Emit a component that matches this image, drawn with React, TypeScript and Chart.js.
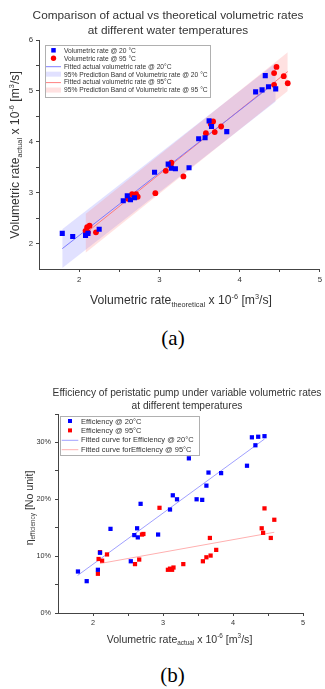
import React, { useEffect, useRef } from "react";
import { Chart, registerables } from "chart.js";
Chart.register(...registerables);

const SANS = "'Liberation Sans', Arial, Helvetica, sans-serif";
const SERIF = "'Liberation Serif', 'Times New Roman', serif";
const INK = "#333333";

// ---------------- Panel (a): actual vs theoretical volumetric rate ----------------
const aBlueX = [1.79, 1.92, 2.08, 2.11, 2.25, 2.55, 2.6, 2.64, 2.69, 2.94, 3.11, 3.15, 3.2, 3.37, 3.49, 3.57, 3.62, 3.65, 3.84, 4.2, 4.28, 4.32, 4.36, 4.45];
const aBlueY = [2.2, 2.14, 2.16, 2.2, 2.28, 2.84, 2.94, 2.86, 2.9, 3.4, 3.56, 3.48, 3.47, 3.49, 4.06, 4.08, 4.41, 4.3, 4.2, 4.98, 5.02, 5.3, 5.08, 5.04];
const aRedX = [2.08, 2.1, 2.11, 2.13, 2.21, 2.61, 2.66, 2.71, 2.73, 2.95, 3.08, 3.14, 3.15, 3.3, 3.58, 3.64, 3.67, 3.69, 3.77, 4.43, 4.43, 4.46, 4.55, 4.6];
const aRedY = [2.25, 2.32, 2.22, 2.35, 2.22, 2.88, 2.97, 2.97, 2.92, 2.99, 3.43, 3.53, 3.59, 3.32, 4.17, 4.35, 4.4, 4.19, 4.3, 5.12, 5.35, 5.47, 5.29, 5.15];
const aBlueFitX = [1.79, 4.45];
const aBlueFitY = [1.9, 5.17];
const aBlueBandLow = [1.52, 4.79];
const aBlueBandHigh = [2.28, 5.55];
const aRedFitX = [2.08, 4.6];
const aRedFitY = [2.2, 5.38];
const aRedBandLow = [1.82, 5.0];
const aRedBandHigh = [2.58, 5.76];
const aXTicks = [2, 2.5, 3, 3.5, 4, 4.5, 5];
const aXLabels = [2, 3, 4, 5];
const aYTicks = [2, 2.5, 3, 3.5, 4, 4.5, 5, 5.5, 6];
const aYLabels = [2, 3, 4, 5, 6];
const aTitle = ["Comparison of actual vs theoretical volumetric rates", "at different water temperatures"];
const aLegendLabels = [
  "Volumetric rate @ 20 °C",
  "Volumetric rate @ 95 °C",
  "Fitted actual volumetric rate @ 20°C",
  "95% Prediction Band of Volumetric rate @ 20 °C",
  "Fitted actual volumetric rate @ 95°C",
  "95% Prediction Band of Volumetric rate @ 95 °C",
];

// ---------------- Panel (b): pump efficiency ----------------
const bBlueX = [1.785, 1.91, 2.07, 2.1, 2.25, 2.54, 2.59, 2.63, 2.64, 2.68, 2.93, 3.1, 3.14, 3.2, 3.37, 3.48, 3.56, 3.62, 3.65, 3.83, 4.2, 4.27, 4.32, 4.36, 4.45];
const bBlueY = [7.3, 5.6, 7.6, 10.6, 14.8, 9.1, 13.7, 14.9, 13.3, 19.2, 13.8, 18.2, 20.7, 20.0, 27.2, 20.0, 19.9, 22.4, 24.7, 24.6, 25.9, 30.9, 29.5, 31.0, 31.1];
const bRedX = [2.07, 2.08, 2.1, 2.13, 2.2, 2.6, 2.66, 2.7, 2.72, 2.95, 3.07, 3.1, 3.13, 3.15, 3.29, 3.57, 3.62, 3.67, 3.68, 3.76, 4.41, 4.43, 4.45, 4.54, 4.59];
const bRedY = [6.9, 9.5, 10.7, 9.2, 10.3, 8.6, 9.4, 13.8, 13.9, 18.5, 7.6, 7.8, 7.6, 8.0, 8.6, 9.1, 9.8, 13.2, 10.1, 11.1, 14.9, 14.1, 18.4, 13.2, 16.4];
const bBlueFitX = [1.78, 4.45];
const bBlueFitY = [6.6, 30.6];
const bRedFitX = [2.1, 4.59];
const bRedFitY = [8.7, 14.2];
const bXTicks = [2, 2.5, 3, 3.5, 4, 4.5, 5];
const bXLabels = [2, 3, 4, 5];
const bYTicks = [0, 5, 10, 15, 20, 25, 30, 35];
const bYLabels = [0, 10, 20, 30];
const bTitle = ["Efficiency of peristatic pump under variable volumetric rates", "at different temperatures"];
const bLegendLabels = [
  "Efficiency @ 20°C",
  "Efficiency @ 95°C",
  "Fitted curve for Efficiency @ 20°C",
  "Fitted curve forEfficiency @ 95°C",
];

// ---------------- helpers ----------------
type Seg = { t: string; k?: "sub" | "sup" };
type LegendItem = { kind: "rect" | "circle" | "line" | "band"; color: string; label: string };
type LegendCfg = {
  x0: number; y0: number; x1: number; y1: number;
  rowY0: number; rowGap: number; markX: number; lineX0: number; lineX1: number;
  textX: number; size: number; mark: number; items: LegendItem[];
};
type Decor = {
  title: string[]; titleX: number; titleY: number[]; titleSize: number;
  xTitle: Seg[]; xTitleX: number; xTitleY: number;
  yTitle: Seg[]; yTitleX: number; yTitleY: number; axisSize: number;
  legend: LegendCfg;
};

function richWidth(ctx: CanvasRenderingContext2D, segs: Seg[], size: number) {
  let w = 0;
  for (const s of segs) {
    ctx.font = `${s.k ? size * 0.6 : size}px ${SANS}`;
    w += ctx.measureText(s.t).width;
  }
  return w;
}

function drawRich(ctx: CanvasRenderingContext2D, segs: Seg[], cx: number, cy: number, size: number, rotate: boolean) {
  ctx.save();
  ctx.translate(cx, cy);
  if (rotate) ctx.rotate(-Math.PI / 2);
  const w = richWidth(ctx, segs, size);
  let x = -w / 2;
  ctx.textAlign = "left";
  ctx.textBaseline = "alphabetic";
  ctx.fillStyle = INK;
  const base = size * 0.36;
  for (const s of segs) {
    const fs = s.k ? size * 0.6 : size;
    ctx.font = `${fs}px ${SANS}`;
    const dy = s.k === "sub" ? size * 0.22 : s.k === "sup" ? -size * 0.42 : 0;
    ctx.fillText(s.t, x, base + dy);
    x += ctx.measureText(s.t).width;
  }
  ctx.restore();
}

function drawLegend(ctx: CanvasRenderingContext2D, L: LegendCfg) {
  ctx.save();
  ctx.fillStyle = "#ffffff";
  ctx.fillRect(L.x0, L.y0, L.x1 - L.x0, L.y1 - L.y0);
  ctx.strokeStyle = "#b0b0b0";
  ctx.lineWidth = 1;
  ctx.strokeRect(Math.round(L.x0) + 0.5, Math.round(L.y0) + 0.5, Math.round(L.x1 - L.x0), Math.round(L.y1 - L.y0));
  L.items.forEach((it, i) => {
    const y = L.rowY0 + i * L.rowGap;
    ctx.fillStyle = it.color;
    ctx.strokeStyle = it.color;
    if (it.kind === "rect") {
      ctx.fillRect(L.markX - L.mark / 2, y - L.mark / 2, L.mark, L.mark);
    } else if (it.kind === "circle") {
      ctx.beginPath();
      ctx.arc(L.markX, y, L.mark / 2 + 0.4, 0, Math.PI * 2);
      ctx.fill();
    } else if (it.kind === "line") {
      ctx.lineWidth = 1;
      ctx.beginPath();
      ctx.moveTo(L.lineX0, y + 0.5);
      ctx.lineTo(L.lineX1, y + 0.5);
      ctx.stroke();
    } else {
      ctx.fillRect(L.lineX0, y - 2.5, L.lineX1 - L.lineX0, 5);
    }
    ctx.fillStyle = INK;
    ctx.font = `${L.size}px ${SANS}`;
    ctx.textAlign = "left";
    ctx.textBaseline = "middle";
    ctx.fillText(it.label, L.textX, y + 0.5);
  });
  ctx.restore();
}

function makeDecor(d: Decor) {
  return {
    id: "decor",
    afterDraw(chart: any) {
      const ctx: CanvasRenderingContext2D = chart.ctx;
      ctx.save();
      ctx.fillStyle = INK;
      ctx.textAlign = "center";
      ctx.textBaseline = "middle";
      ctx.font = `${d.titleSize}px ${SANS}`;
      d.title.forEach((t, i) => ctx.fillText(t, d.titleX, d.titleY[i]));
      ctx.restore();
      drawRich(ctx, d.xTitle, d.xTitleX, d.xTitleY, d.axisSize, false);
      drawRich(ctx, d.yTitle, d.yTitleX, d.yTitleY, d.axisSize, true);
      drawLegend(ctx, d.legend);
    },
  };
}

const pts = (xs: number[], ys: number[]) => xs.map((x, i) => ({ x, y: ys[i] }));

function axis(
  min: number, max: number, ticks: number[], labels: number[], fmt: (v: number) => string,
  fontSize: number, pad: number, fit: (s: any) => void
) {
  return {
    type: "linear",
    min,
    max,
    afterBuildTicks: (s: any) => {
      s.ticks = ticks.map((v) => ({ value: v }));
    },
    afterFit: fit,
    ticks: {
      autoSkip: false,
      maxRotation: 0,
      padding: pad,
      color: INK,
      font: { family: SANS, size: fontSize },
      callback: (v: any) => (labels.includes(Number(v)) ? fmt(Number(v)) : ""),
    },
    grid: { drawOnChartArea: false, drawTicks: true, tickLength: 3, tickColor: "#444", tickWidth: 1 },
    border: { display: true, color: "#444", width: 1 },
    title: { display: false },
  };
}

function configA() {
  const blueBand = "rgba(120,120,255,0.22)";
  const redBand = "rgba(255,120,120,0.22)";
  const decor = makeDecor({
    title: aTitle, titleX: 168, titleY: [15.5, 31], titleSize: 11.8,
    xTitle: [{ t: "Volumetric rate" }, { t: "theoretical", k: "sub" }, { t: " x 10" }, { t: "-6", k: "sup" }, { t: " [m" }, { t: "3", k: "sup" }, { t: "/s]" }],
    xTitleX: 181, xTitleY: 300,
    yTitle: [{ t: "Volumetric rate" }, { t: "actual", k: "sub" }, { t: " x 10" }, { t: "-6", k: "sup" }, { t: " [m" }, { t: "3", k: "sup" }, { t: "/s]" }],
    yTitleX: 15, yTitleY: 155, axisSize: 12.2,
    legend: {
      x0: 44.5, y0: 45, x1: 209, y1: 97, rowY0: 50.3, rowGap: 7.95,
      markX: 53.5, lineX0: 46, lineX1: 61, textX: 64, size: 6.7, mark: 4.5,
      items: [
        { kind: "rect", color: "#0000ff", label: aLegendLabels[0] },
        { kind: "circle", color: "#ff0000", label: aLegendLabels[1] },
        { kind: "line", color: "#8080ff", label: aLegendLabels[2] },
        { kind: "band", color: "rgba(120,120,255,0.22)", label: aLegendLabels[3] },
        { kind: "line", color: "#ff8080", label: aLegendLabels[4] },
        { kind: "band", color: "rgba(255,120,120,0.22)", label: aLegendLabels[5] },
      ],
    },
  });
  return {
    type: "scatter",
    data: {
      datasets: [
        { data: pts(aBlueX, aBlueY), pointStyle: "rect", pointRadius: 3.6, backgroundColor: "#0000ff", borderWidth: 0 },
        { data: pts(aRedX, aRedY), pointStyle: "circle", pointRadius: 2.9, backgroundColor: "#ff0000", borderWidth: 0 },
        { data: pts(aBlueFitX, aBlueFitY), showLine: true, pointRadius: 0, borderColor: "#7070ff", borderWidth: 0.9 },
        { data: pts(aRedFitX, aRedFitY), showLine: true, pointRadius: 0, borderColor: "#ff7070", borderWidth: 0.9 },
        { data: pts(aRedFitX, aRedBandHigh), showLine: true, pointRadius: 0, borderWidth: 0, borderColor: "transparent", backgroundColor: redBand, fill: { target: 5 } },
        { data: pts(aRedFitX, aRedBandLow), showLine: true, pointRadius: 0, borderWidth: 0, borderColor: "transparent" },
        { data: pts(aBlueFitX, aBlueBandHigh), showLine: true, pointRadius: 0, borderWidth: 0, borderColor: "transparent", backgroundColor: blueBand, fill: { target: 7 } },
        { data: pts(aBlueFitX, aBlueBandLow), showLine: true, pointRadius: 0, borderWidth: 0, borderColor: "transparent" },
      ],
    },
    options: {
      responsive: false,
      animation: false,
      events: [],
      layout: { padding: { top: 40, right: 2, left: 0, bottom: 0 } },
      plugins: { legend: { display: false }, tooltip: { enabled: false }, title: { display: false } },
      scales: {
        x: axis(1.5, 5, aXTicks, aXLabels, (v) => String(v), 7.8, 3, (s: any) => { s.height = 51; }),
        y: axis(1.5, 6, aYTicks, aYLabels, (v) => String(v), 7.8, 3, (s: any) => { s.width = 39; }),
      },
    },
    plugins: [decor],
  };
}

function configB() {
  const decor = makeDecor({
    title: bTitle, titleX: 187, titleY: [22.7, 35.7], titleSize: 10.2,
    xTitle: [{ t: "Volumetric rate" }, { t: "actual", k: "sub" }, { t: " x 10" }, { t: "-6", k: "sup" }, { t: " [m" }, { t: "3", k: "sup" }, { t: "/s]" }],
    xTitleX: 179.5, xTitleY: 269,
    yTitle: [{ t: "η" }, { t: "efficiency", k: "sub" }, { t: " [No unit]" }],
    yTitleX: 29, yTitleY: 138, axisSize: 10.6,
    legend: {
      x0: 59.5, y0: 46, x1: 198, y1: 85, rowY0: 51, rowGap: 9.4,
      markX: 70, lineX0: 61.7, lineX1: 78.3, textX: 81, size: 7.5, mark: 4,
      items: [
        { kind: "rect", color: "#0000ff", label: bLegendLabels[0] },
        { kind: "rect", color: "#ff0000", label: bLegendLabels[1] },
        { kind: "line", color: "#a0a0ff", label: bLegendLabels[2] },
        { kind: "line", color: "#ffb0b0", label: bLegendLabels[3] },
      ],
    },
  });
  return {
    type: "scatter",
    data: {
      datasets: [
        { data: pts(bBlueX, bBlueY), pointStyle: "rect", pointRadius: 3.0, backgroundColor: "#0000ff", borderWidth: 0 },
        { data: pts(bRedX, bRedY), pointStyle: "rect", pointRadius: 3.0, backgroundColor: "#ff0000", borderWidth: 0 },
        { data: pts(bBlueFitX, bBlueFitY), showLine: true, pointRadius: 0, borderColor: "#a0a0ff", borderWidth: 1 },
        { data: pts(bRedFitX, bRedFitY), showLine: true, pointRadius: 0, borderColor: "#ffb0b0", borderWidth: 1 },
      ],
    },
    options: {
      responsive: false,
      animation: false,
      events: [],
      layout: { padding: { top: 44, right: 22, left: 0, bottom: 0 } },
      plugins: { legend: { display: false }, tooltip: { enabled: false }, title: { display: false } },
      scales: {
        x: axis(1.5, 5, bXTicks, bXLabels, (v) => String(v), 7.3, 3, (s: any) => { s.height = 37; }),
        y: axis(0, 35, bYTicks, bYLabels, (v) => `${v}%`, 7.3, 4, (s: any) => { s.width = 58; }),
      },
    },
    plugins: [decor],
  };
}

function Panel({ make, top, height }: { make: () => any; top: number; height: number }) {
  const ref = useRef<HTMLCanvasElement | null>(null);
  useEffect(() => {
    if (!ref.current) return;
    const chart = new Chart(ref.current, make());
    return () => chart.destroy();
  }, []);
  return (
    <canvas
      ref={ref}
      width={325}
      height={height}
      style={{ position: "absolute", left: 0, top, width: 325, height }}
    />
  );
}

export default function App() {
  return (
    <div style={{ position: "absolute", left: 0, top: 0, width: 325, height: 689, background: "#fff", overflow: "hidden" }}>
      <Panel make={configA} top={0} height={320} />
      <div style={{ position: "absolute", left: 0, width: 346, top: 325, textAlign: "center", font: `21px ${SERIF}`, lineHeight: "26px", color: "#000" }}>(a)</div>
      <Panel make={configB} top={370} height={280} />
      <div style={{ position: "absolute", left: 0, width: 345, top: 662, textAlign: "center", font: `21px ${SERIF}`, lineHeight: "26px", color: "#000" }}>(b)</div>
    </div>
  );
}
